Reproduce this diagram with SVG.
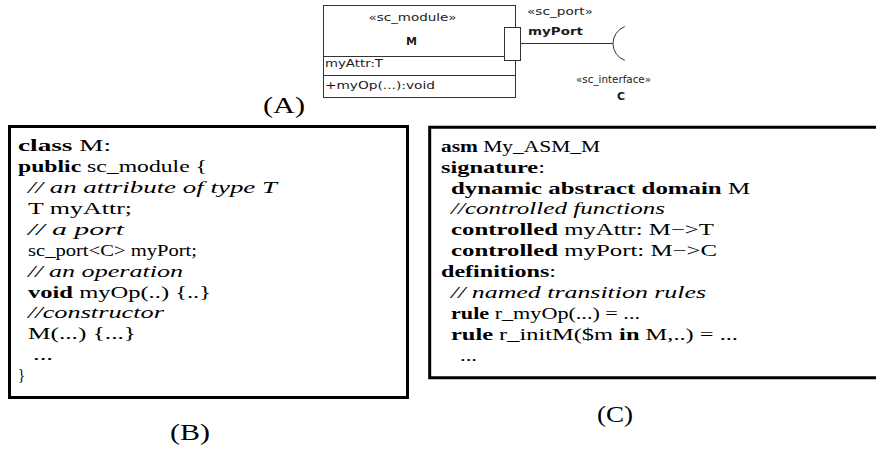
<svg xmlns="http://www.w3.org/2000/svg" width="876" height="452" viewBox="0 0 876 452">
<style>
  .code { font-family: "Liberation Serif", "Times New Roman", serif; font-size: 17.5px; fill: #000; }
  .b { font-weight: bold; }
  .i { font-style: italic; }
  .cap { font-family: "Liberation Serif", "Times New Roman", serif; font-size: 23px; fill: #000; }
  .uml { font-family: "DejaVu Sans", "Liberation Sans", sans-serif; font-size: 10.5px; fill: #1a1a1a; }
  .umlb { font-weight: bold; font-size: 11px; }
  .frame { fill: none; stroke: #000; stroke-width: 3; }
  .thin { fill: #fff; stroke: #333; stroke-width: 1; }
  .wire { fill: none; stroke: #333; stroke-width: 1; }
</style>
<rect width="876" height="452" fill="#fff"/>

<!-- UML class M with its port and required interface -->
<g id="module-M">
  <rect class="thin" x="323.5" y="5.5" width="192" height="92"/>
  <line class="wire" x1="323.5" y1="56.5" x2="504.5" y2="56.5"/>
  <line class="wire" x1="323.5" y1="75.5" x2="515.5" y2="75.5"/>
  <text class="uml" x="412.5" y="20.5" text-anchor="middle" textLength="88" lengthAdjust="spacingAndGlyphs">«sc_module»</text>
  <text class="uml umlb" x="411.5" y="45" text-anchor="middle">M</text>
  <text class="uml" x="325" y="67" textLength="58" lengthAdjust="spacingAndGlyphs">myAttr:T</text>
  <text class="uml" x="325" y="88.5" textLength="110" lengthAdjust="spacingAndGlyphs">+myOp(...):void</text>
</g>

<g id="port-myPort">
  <rect class="thin" x="504.5" y="27.5" width="16" height="33"/>
  <text class="uml" x="527" y="15" textLength="66" lengthAdjust="spacingAndGlyphs">«sc_port»</text>
  <text class="uml umlb" x="528" y="35" textLength="55" lengthAdjust="spacingAndGlyphs">myPort</text>
</g>

<g id="interface-C">
  <path class="wire" d="M624.8 26.6 A18 18 0 0 0 624.8 60.4"/>
  <text class="uml" x="576" y="83" textLength="75" lengthAdjust="spacingAndGlyphs">«sc_interface»</text>
  <text class="uml umlb" x="621" y="100" text-anchor="middle">C</text>
</g>

<g id="connectors">
  <line class="wire" x1="520.5" y1="43.5" x2="613" y2="43.5"/>
</g>

<g id="label-A">
  <text class="cap" x="263" y="113" textLength="42" lengthAdjust="spacingAndGlyphs">(A)</text>
</g>

<!-- SystemC source of module M -->
<g id="systemc-code">
  <rect class="frame" x="9.5" y="126.5" width="398" height="271"/>
  <text class="code" x="18" y="151.2" textLength="93" lengthAdjust="spacingAndGlyphs"><tspan class="b">class</tspan> M:</text>
  <text class="code" x="18" y="172.1" textLength="189" lengthAdjust="spacingAndGlyphs"><tspan class="b">public</tspan> sc_module {</text>
  <text class="code i" x="28" y="193" textLength="249" lengthAdjust="spacingAndGlyphs">// an attribute of type T</text>
  <text class="code" x="28" y="213.9" textLength="104" lengthAdjust="spacingAndGlyphs">T myAttr;</text>
  <text class="code i" x="28" y="234.8" textLength="96" lengthAdjust="spacingAndGlyphs">// a port</text>
  <text class="code" x="28" y="255.7" textLength="169" lengthAdjust="spacingAndGlyphs">sc_port&lt;C&gt; myPort;</text>
  <text class="code i" x="28" y="276.6" textLength="155" lengthAdjust="spacingAndGlyphs">// an operation</text>
  <text class="code" x="28" y="297.5" textLength="183" lengthAdjust="spacingAndGlyphs"><tspan class="b">void</tspan> myOp(..) {..}</text>
  <text class="code i" x="28" y="318.4" textLength="136" lengthAdjust="spacingAndGlyphs">//constructor</text>
  <text class="code" x="28" y="339.3" textLength="108" lengthAdjust="spacingAndGlyphs">M(...) {...}</text>
  <text class="code" x="33" y="360.2" textLength="20" lengthAdjust="spacingAndGlyphs">...</text>
  <text class="code" x="18" y="381.1" textLength="7" lengthAdjust="spacingAndGlyphs">}</text>
  <text class="cap" x="170" y="440" textLength="40" lengthAdjust="spacingAndGlyphs">(B)</text>
</g>

<!-- ASM specification of module M; the frame runs on past the right edge -->
<g id="asm-code">
  <path class="frame" d="M880 127.2 H429.7 V377.8 H880"/>
  <text class="code" x="441" y="151.7" textLength="159" lengthAdjust="spacingAndGlyphs"><tspan class="b">asm</tspan> My_ASM_M</text>
  <text class="code" x="441" y="172.6" textLength="104" lengthAdjust="spacingAndGlyphs"><tspan class="b">signature</tspan>:</text>
  <text class="code" x="451" y="193.5" textLength="299" lengthAdjust="spacingAndGlyphs"><tspan class="b">dynamic abstract domain</tspan> M</text>
  <text class="code i" x="451" y="214.4" textLength="214" lengthAdjust="spacingAndGlyphs">//controlled functions</text>
  <text class="code" x="451" y="235.3" textLength="263" lengthAdjust="spacingAndGlyphs"><tspan class="b">controlled</tspan> myAttr: M−&gt;T</text>
  <text class="code" x="451" y="256.2" textLength="266" lengthAdjust="spacingAndGlyphs"><tspan class="b">controlled</tspan> myPort: M−&gt;C</text>
  <text class="code" x="441" y="277.1" textLength="115" lengthAdjust="spacingAndGlyphs"><tspan class="b">definitions</tspan>:</text>
  <text class="code i" x="451" y="298" textLength="255" lengthAdjust="spacingAndGlyphs">// named transition rules</text>
  <text class="code" x="451" y="318.9" textLength="189" lengthAdjust="spacingAndGlyphs"><tspan class="b">rule</tspan> r_myOp(...) = ...</text>
  <text class="code" x="451" y="339.8" textLength="287" lengthAdjust="spacingAndGlyphs"><tspan class="b">rule</tspan> r_initM($m <tspan class="b">in</tspan> M,..) = ...</text>
  <text class="code" x="460" y="360.7" textLength="17" lengthAdjust="spacingAndGlyphs">...</text>
  <text class="cap" x="597" y="421.7" textLength="36" lengthAdjust="spacingAndGlyphs">(C)</text>
</g>
</svg>
